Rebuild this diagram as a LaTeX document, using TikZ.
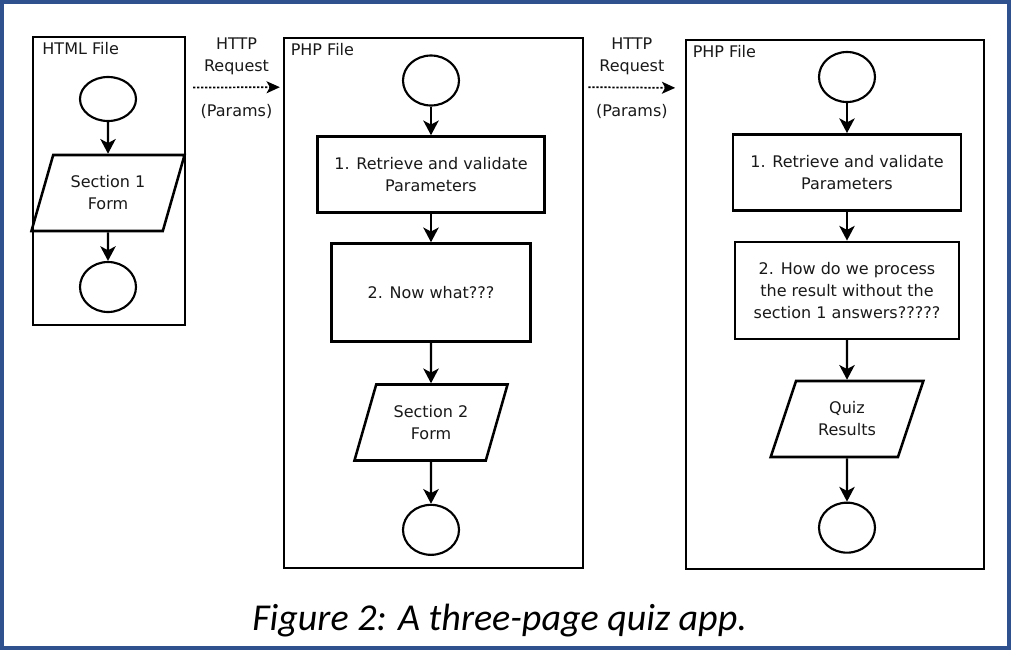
\documentclass[tikz,border=0pt]{standalone}
\usepackage{fontspec}
\setmainfont{DejaVu Sans}
\newfontfamily\captionfont{Carlito}
\usetikzlibrary{positioning, arrows.meta, shapes.geometric}
\definecolor{frameblue}{RGB}{47,82,143}
\tikzset{
  quizapp/.style={
	x=0.75pt, y=-0.75pt, % one unit is one pixel of the screenshot, y runs down
	node distance=70.5pt, % distance between the centres of two steps
	font=\fontsize{12}{16.5}\selectfont, % text of the flow charts
	text=black!90,
	every node/.style={align=center},
  },
  filebox/.style={draw, line width=2.2pt, inner sep=0pt}, % one file of the app
  filetag/.style={anchor=north west, inner xsep=6pt, inner ysep=5pt}, % name of the file
  terminal/.style={ellipse, draw, line width=1.6pt, minimum width=42pt, minimum height=37.5pt}, % start and end
  stepbox/.style={rectangle, draw, line width=1.9pt, minimum height=57pt}, % processing step
  iobox/.style={trapezium, trapezium left angle=69, trapezium right angle=111, trapezium stretches=true,
	draw, line width=1.9pt, minimum width=115pt, minimum height=57pt}, % form / output
  flow/.style={-{Stealth[length=11pt, width=11.5pt, inset=3pt]}, line width=1.8pt},
  request/.style={-{Stealth[length=10pt, width=9pt, inset=2.5pt]}, dash pattern=on 1.6pt off 1.4pt, line width=1.3pt},
}

\begin{document}
\begin{tikzpicture}[quizapp]
	\useasboundingbox (0,0) rectangle (1011,650);
	\draw[frameblue, line width=3.2pt] (2,2) rectangle (1009,648);

	% HTML file
	\node[filebox, minimum width=114pt, minimum height=216pt] (b1) at (109,181) {};
	\node[filetag, inner xsep=8pt] (t1) at (b1.north west) {HTML File};
	\node[terminal, minimum height=33pt] (h0) at (108,99) {};
	\node[iobox, below of=h0, yshift=0cm, xshift=0cm] (h1) {Section 1\\Form};
	\node[terminal, below of=h1, yshift=0cm, xshift=0cm] (h2) {};

	% first PHP file
	\node[filebox, minimum width=224.25pt, minimum height=397.5pt] (b2) at (433.5,303) {};
	\node[filetag] (t2) at (b2.north west) {PHP File};
	\node[terminal] (p0) at (431,80.5) {};
	\node[stepbox, minimum width=170.25pt, below of=p0, yshift=0cm, xshift=0cm] (p1) {1. Retrieve and validate\\Parameters};
	\node[stepbox, minimum width=149.25pt, minimum height=73.5pt, below of=p1, yshift=-18pt, xshift=0cm] (p2) {2. Now what???};
	\node[iobox, below of=p2, yshift=-27pt, xshift=0cm] (p3) {Section 2\\Form};
	\node[terminal, below of=p3, yshift=-10pt, xshift=0cm] (p4) {};

	% second PHP file
	\node[filebox, minimum width=223.5pt, minimum height=396.75pt] (b3) at (835,304.5) {};
	\node[filetag] (t3) at (b3.north west) {PHP File};
	\node[terminal] (q0) at (847,77) {};
	\node[stepbox, minimum width=171pt, below of=q0, yshift=-1pt, xshift=0cm] (q1) {1. Retrieve and validate\\Parameters};
	\node[stepbox, minimum width=168pt, minimum height=72.75pt, below of=q1, yshift=-18pt, xshift=0cm] (q2) {2. How do we process\\the result without the\\section 1 answers?????};
	\node[iobox, below of=q2, yshift=-26pt, xshift=0cm] (q3) {Quiz\\Results};
	\node[terminal, below of=q3, yshift=-11pt, xshift=0cm] (q4) {};

	\draw[flow] (h0) edge (h1)
		(h1) edge (h2)
		(p0) edge (p1)
		(p1) edge (p2)
		(p2) edge (p3)
		(p3) edge (p4)
		(q0) edge (q1)
		(q1) edge (q2)
		(q2) edge (q3)
		(q3) edge (q4)
	;

	% requests between the files
	\draw[request] ([xshift=5pt, yshift=-39pt]b1.north east) -- ([xshift=-2pt, yshift=-38pt]b2.north west)
		node[midway, above=5.5pt] (r1) {HTTP\\Request}
		node[midway, below=9pt] (s1) {(Params)};
	\draw[request] ([xshift=3pt, yshift=-38pt]b2.north east) -- ([xshift=-7pt, yshift=-37pt]b3.north west)
		node[midway, above=5.5pt] (r2) {HTTP\\Request}
		node[midway, below=9pt] (s2) {(Params)};

	\node[anchor=base west, inner sep=0pt, text=black, font=\captionfont\itshape\fontsize{28.5}{34}\selectfont] (cap) at (252,630) {Figure 2: A three-page quiz app.};
\end{tikzpicture}
\end{document}
